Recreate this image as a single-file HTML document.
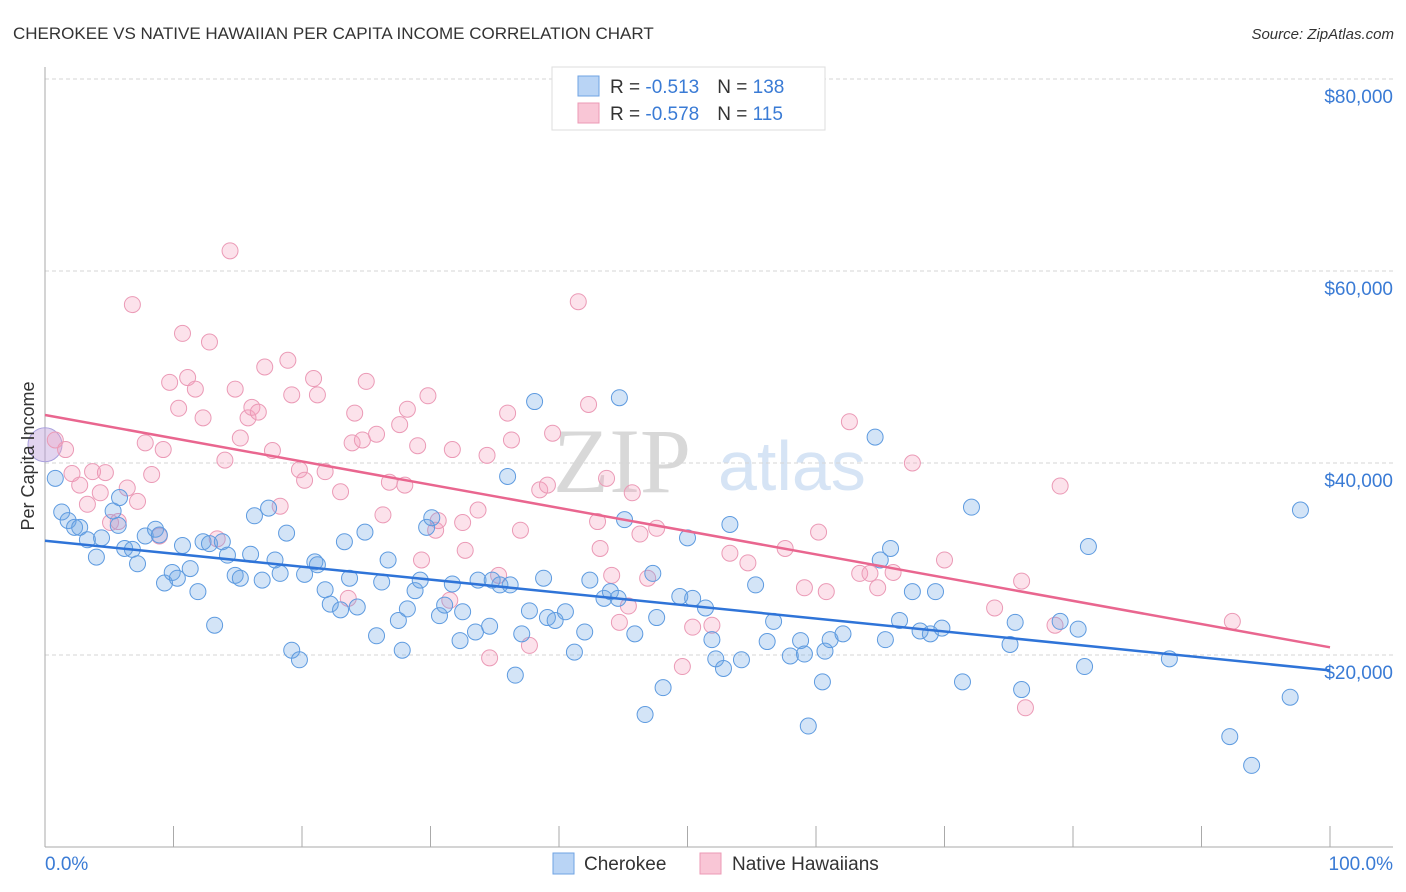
<!DOCTYPE html>
<html><head><meta charset="utf-8"><style>
body{margin:0;background:#fff;font-family:"Liberation Sans",sans-serif;}
svg{display:block}
</style></head><body>
<svg id="chart" width="1406" height="892" xmlns="http://www.w3.org/2000/svg">
<text x="13" y="39" font-size="17" fill="#333" font-family="Liberation Sans, sans-serif">CHEROKEE VS NATIVE HAWAIIAN PER CAPITA INCOME CORRELATION CHART</text>
<text x="1394" y="39" font-size="15" fill="#333" font-style="italic" text-anchor="end">Source: ZipAtlas.com</text>
<g>
<text x="553" y="492" font-size="92" fill="#d8d8d8" font-family="Liberation Serif, serif">ZIP</text>
<text x="718" y="490" font-size="70" fill="#d6e4f5">atlas</text>
</g>
<g id="grid"></g>
<g id="axes"></g>
<g id="pts"></g>
<g id="lines"></g>
<text transform="translate(34,456) rotate(-90)" font-size="18" fill="#333" text-anchor="middle">Per Capita Income</text>
<g>
<rect x="552" y="67" width="273" height="63" fill="#fff" stroke="#ddd"/>
<rect x="578" y="76" width="21" height="20" fill="#b9d4f5" stroke="#6fa3e3"/>
<rect x="578" y="103" width="21" height="20" fill="#f9c6d6" stroke="#ec9ab5"/>
<text x="610" y="93" font-size="19" fill="#333">R = <tspan fill="#3a7bd5"> -0.513</tspan><tspan dx="18" fill="#333">N = </tspan><tspan fill="#3a7bd5">138</tspan></text>
<text x="610" y="120" font-size="19" fill="#333">R = <tspan fill="#3a7bd5">-0.578</tspan><tspan dx="18" fill="#333">N = </tspan><tspan fill="#3a7bd5"> 115</tspan></text>
</g>
<g>
<rect x="553" y="853" width="21" height="21" fill="#b9d4f5" stroke="#6fa3e3"/>
<text x="584" y="870" font-size="19" fill="#333">Cherokee</text>
<rect x="700" y="853" width="21" height="21" fill="#f9c6d6" stroke="#ec9ab5"/>
<text x="732" y="870" font-size="19" fill="#333">Native Hawaiians</text>
</g>
</svg>
<script>
const yTicks=[20000,40000,60000,80000];
const xTickPcts=[0,10,20,30,40,50,60,70,80,90,100];
const xLabels=["0.0%","100.0%"];
const cherokeeX=[0.8,1.3,1.8,2.3,2.7,3.3,4.0,4.4,5.3,5.7,5.8,6.2,6.8,7.2,7.8,8.6,8.9,9.3,9.9,10.3,10.7,11.3,11.9,12.3,12.8,13.2,13.8,14.2,14.8,15.2,16.0,16.3,16.9,17.4,17.9,18.3,18.8,19.2,19.8,20.2,21.0,21.2,21.8,22.2,23.0,23.3,23.7,24.3,24.9,25.8,26.2,26.7,27.5,27.8,28.2,28.8,29.2,29.7,30.1,30.7,31.1,31.7,32.3,32.5,33.5,33.7,34.6,34.8,35.4,36.0,36.2,36.6,37.1,37.7,38.1,38.8,39.1,39.7,40.5,41.2,42.0,42.4,43.5,44.0,44.6,44.7,45.1,45.9,46.7,47.3,47.6,48.1,49.4,50.0,50.4,51.4,51.9,52.2,52.8,53.3,54.2,55.3,56.2,56.7,58.0,58.8,59.1,59.4,60.5,60.7,61.1,62.1,64.6,65.0,65.4,65.8,66.5,67.5,68.1,68.9,69.3,69.8,71.4,72.1,75.1,75.5,76.0,79.0,80.4,80.9,81.2,87.5,92.2,93.9,96.9,97.7];
const cherokeeY=[38.4,34.9,34.0,33.3,33.3,32.0,30.2,32.2,35.0,33.5,36.4,31.1,31.0,29.5,32.4,33.1,32.5,27.5,28.6,28.0,31.4,29.0,26.6,31.8,31.6,23.1,31.8,30.4,28.3,28.0,30.5,34.5,27.8,35.3,29.9,28.5,32.7,20.5,19.5,28.4,29.7,29.4,26.8,25.3,24.7,31.8,28.0,25.0,32.8,22.0,27.6,29.9,23.6,20.5,24.8,26.7,27.8,33.3,34.3,24.1,25.2,27.4,21.5,24.5,22.4,27.8,23.0,27.8,27.3,38.6,27.3,17.9,22.2,24.6,46.4,28.0,23.9,23.6,24.5,20.3,22.4,27.8,25.9,26.6,25.9,46.8,34.1,22.2,13.8,28.5,23.9,16.6,26.1,32.2,25.9,24.9,21.6,19.6,18.6,33.6,19.5,27.3,21.4,23.5,19.9,21.5,20.1,12.6,17.2,20.4,21.6,22.2,42.7,29.9,21.6,31.1,23.6,26.6,22.5,22.2,26.6,22.8,17.2,35.4,21.1,23.4,16.4,23.5,22.7,18.8,31.3,19.6,11.5,8.5,15.6,35.1];
const hawaiianX=[0.8,1.6,2.1,2.7,3.3,3.7,4.3,4.7,5.1,5.7,6.4,6.8,7.2,7.8,8.3,8.9,9.2,9.7,10.4,10.7,11.1,11.7,12.3,12.8,13.4,14.0,14.4,14.8,15.2,15.8,16.1,16.6,17.1,17.7,18.3,18.9,19.2,19.8,20.2,20.9,21.2,21.8,23.0,23.6,24.1,23.9,24.7,25.0,25.8,26.3,26.8,27.6,28.0,28.2,29.0,29.3,29.8,30.4,30.6,31.5,31.7,32.5,32.7,33.7,34.4,34.6,35.3,36.0,36.3,37.0,37.7,38.5,39.1,39.5,41.5,42.3,43.0,43.2,43.7,44.1,44.7,45.4,45.7,46.3,46.9,47.6,49.6,50.4,51.9,53.3,54.7,57.6,59.1,60.2,60.8,62.6,63.4,64.2,64.8,66.0,67.5,70.0,73.9,76.0,76.3,78.6,79.0,92.4];
const hawaiianY=[42.4,41.4,38.9,37.7,35.7,39.1,36.9,39.0,33.8,33.9,37.4,56.5,36.0,42.1,38.8,32.4,41.4,48.4,45.7,53.5,48.9,47.7,44.7,52.6,32.1,40.3,62.1,47.7,42.6,44.7,45.8,45.3,50.0,41.3,35.5,50.7,47.1,39.3,38.2,48.8,47.1,39.1,37.0,25.9,45.2,42.1,42.4,48.5,43.0,34.6,38.0,44.0,37.7,45.6,41.8,29.9,47.0,33.0,34.0,25.7,41.4,33.8,30.9,35.1,40.8,19.7,28.3,45.2,42.4,33.0,21.0,37.2,37.7,43.1,56.8,46.1,33.9,31.1,38.4,28.3,23.4,25.1,36.9,32.6,28.0,33.2,18.8,22.9,23.1,30.6,29.6,31.1,27.0,32.8,26.6,44.3,28.5,28.5,27.0,28.6,40.0,29.9,24.9,27.7,14.5,23.1,37.6,23.5];
const cherokeeTrend=[31.9,18.4];
const hawaiianTrend=[45.0,20.8];
const bigPoint=[0,41.9];

const NS="http://www.w3.org/2000/svg";
const X0=45,X1=1330,YB=847,PXK=9.6;
function xs(p){return X0+(X1-X0)*p/100;}
function ys(k){return YB-k*PXK;}
function mk(t,a,parent){const e=document.createElementNS(NS,t);for(const k in a)e.setAttribute(k,a[k]);parent.appendChild(e);return e;}
const grid=document.getElementById('grid'),axes=document.getElementById('axes'),pts=document.getElementById('pts'),lines=document.getElementById('lines');
yTicks.forEach(v=>{
 const y=ys(v/1000);
 const l=mk('line',{x1:45,x2:1393,y1:y,y2:y,stroke:'#d6d6d6','stroke-dasharray':'4,3'},grid);
 
 
 const t=mk('text',{x:1393,y:y+24,'font-size':19,fill:'#3a7bd5','text-anchor':'end'},axes);
 t.textContent='$'+v.toLocaleString('en-US');
 
 
});
const ya=mk('line',{x1:45,x2:45,y1:67,y2:847,stroke:'#aaa'},axes);


const xa=mk('line',{x1:45,x2:1393,y1:847,y2:847,stroke:'#aaa'},axes);


xTickPcts.forEach(p=>{
 const l=mk('line',{x1:xs(p),x2:xs(p),y1:826,y2:847,stroke:'#aaa'},axes);
 
 
});
const xl0=mk('text',{x:45,y:870,'font-size':19,fill:'#3a7bd5'},axes);
xl0.textContent=xLabels[0];


const xl1=mk('text',{x:1393,y:870,'font-size':19,fill:'#3a7bd5','text-anchor':'end'},axes);
xl1.textContent=xLabels[1];



const bp=mk('circle',{cx:xs(bigPoint[0]),cy:ys(bigPoint[1]),r:17,fill:'rgba(190,160,220,0.45)',stroke:'#a9a0dd'},pts);


hawaiianX.forEach((x,i)=>{
 const c=mk('circle',{cx:xs(x),cy:ys(hawaiianY[i]),r:8,fill:'rgba(245,160,190,0.3)',stroke:'#eb9ab6','stroke-width':1},pts);
 
 
});
cherokeeX.forEach((x,i)=>{
 const c=mk('circle',{cx:xs(x),cy:ys(cherokeeY[i]),r:8,fill:'rgba(110,165,230,0.3)',stroke:'#5e9be0','stroke-width':1},pts);
 
 
});
const tb=mk('line',{x1:xs(0),y1:ys(cherokeeTrend[0]),x2:xs(100),y2:ys(cherokeeTrend[1]),stroke:'#2f74d8','stroke-width':2.5},lines);


const tp=mk('line',{x1:xs(0),y1:ys(hawaiianTrend[0]),x2:xs(100),y2:ys(hawaiianTrend[1]),stroke:'#e9668f','stroke-width':2.5},lines);


</script>
</body></html>
